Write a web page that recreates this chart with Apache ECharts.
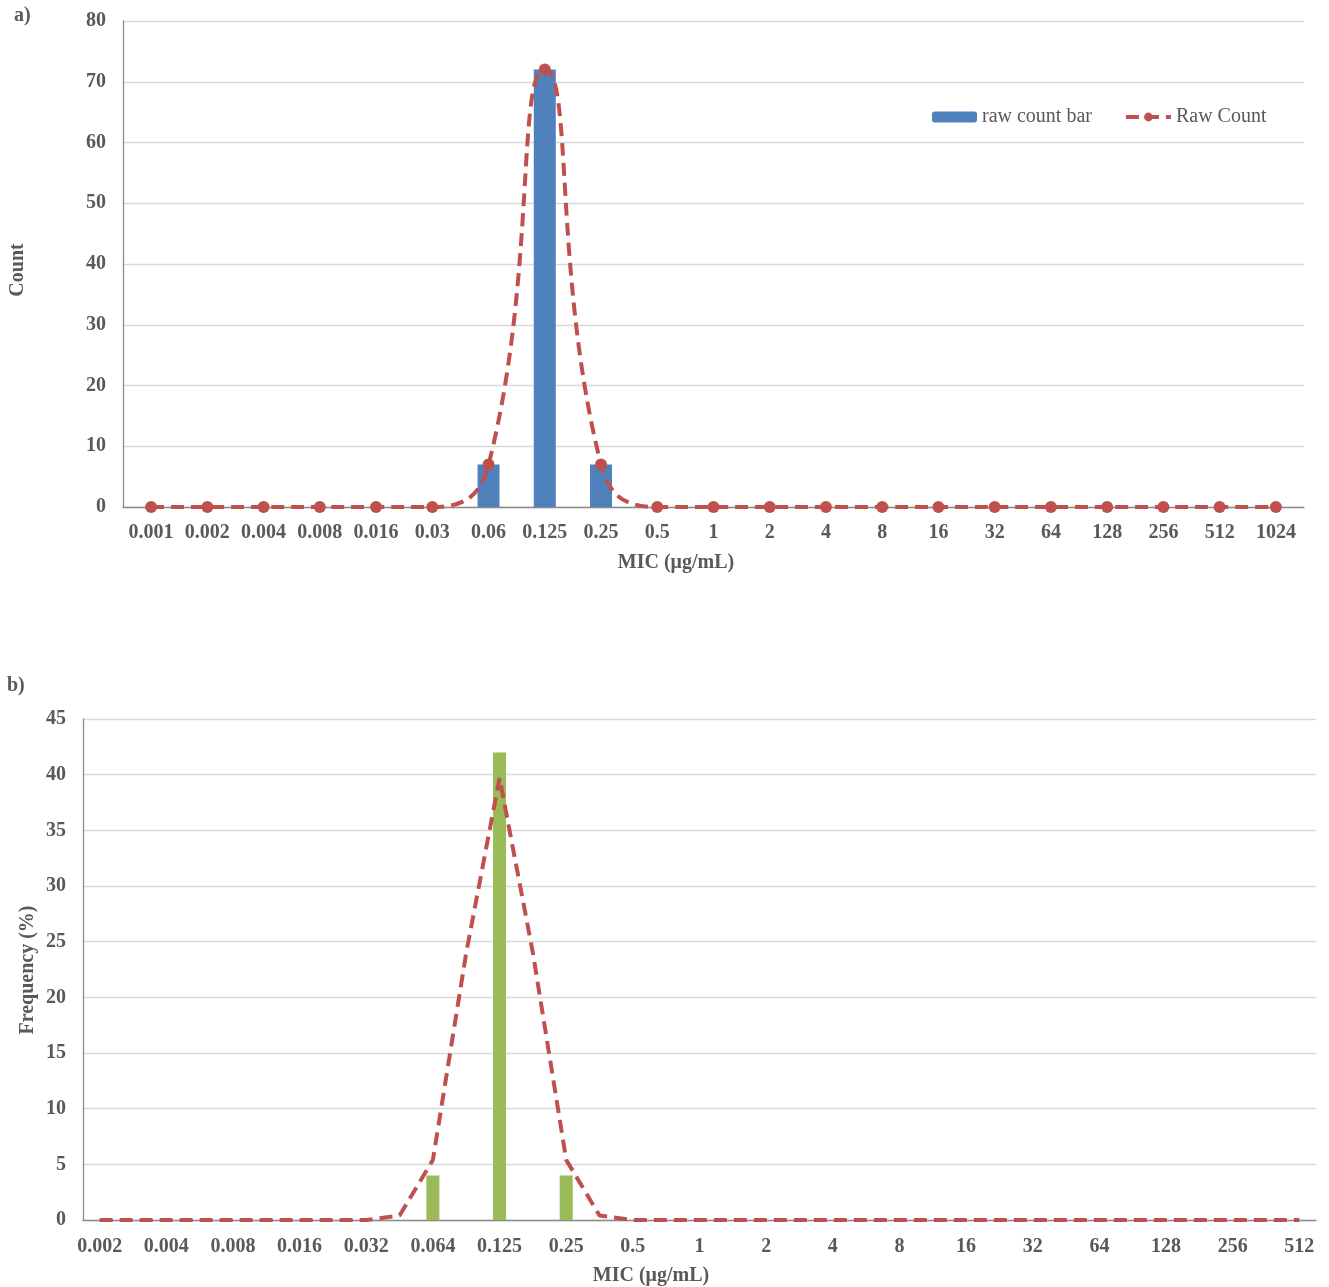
<!DOCTYPE html>
<html>
<head>
<meta charset="utf-8">
<script src="https://cdn.jsdelivr.net/npm/echarts@6/dist/echarts.min.js"></script>
<style>html,body{margin:0;padding:0;background:#fff}#c{width:1329px;height:1287px}</style>
</head>
<body>
<div id="c"></div>
<script>
// ---- Panel a data ----
var catsA = ['0.001','0.002','0.004','0.008','0.016','0.03','0.06','0.125','0.25','0.5','1','2','4','8','16','32','64','128','256','512','1024'];
var barA  = [0,0,0,0,0,0,7,72,7,0,0,0,0,0,0,0,0,0,0,0,0];
var lineA = [0,0,0,0,0,0,7,72,7,0,0,0,0,0,0,0,0,0,0,0,0];
var yTicksA = [0,10,20,30,40,50,60,70,80];

// ---- Panel b data ----
var catsB = ['0.002','0.004','0.008','0.016','0.032','0.064','0.125','0.25','0.5','1','2','4','8','16','32','64','128','256','512'];
var barB  = [0,0,0,0,0,4,42,4,0,0,0,0,0,0,0,0,0,0,0];
// fitted curve sampled at half-steps between the MIC categories (37 points)
var lineB = [0,0,0,0,0,0,0,0,0,0.4,5.4,24,39.7,24,5.4,0.4,0,0,0,0,0,0,0,0,0,0,0,0,0,0,0,0,0,0,0,0,0];
var yTicksB = [0,5,10,15,20,25,30,35,40,45];

// build half-step category axis for panel b
var catsBHalf = [], barBHalf = [];
for (var i = 0; i < catsB.length; i++) {
  catsBHalf.push(catsB[i]); barBHalf.push(barB[i]);
  if (i < catsB.length - 1) { catsBHalf.push(''); barBHalf.push(null); }
}

var FONT = 'Liberation Serif, Times New Roman, serif';
var TXT = '#595959';
var labelStyle = { fontFamily: FONT, fontWeight: 'bold', fontSize: 20, color: TXT };
var axisLineStyle = { lineStyle: { color: '#8c8c8c', width: 1.3 } };
var gridLine = { show: true, lineStyle: { color: '#d9d9d9', width: 1.3 } };

var chart = echarts.init(document.getElementById('c'), null, { renderer: 'canvas' });
chart.setOption({
  animation: false,
  backgroundColor: '#fff',
  grid: [
    { left: 123, top: 21, width: 1181, height: 486 },
    { left: 83, top: 719, width: 1233, height: 501 }
  ],
  legend: {
    data: ['raw count bar', 'Raw Count'],
    left: 927, top: 102,
    itemWidth: 45, itemHeight: 11, itemGap: 32,
    lineStyle: { width: 4 },
    textStyle: { fontFamily: FONT, fontSize: 20, color: TXT }
  },
  xAxis: [
    { type: 'category', gridIndex: 0, data: catsA, boundaryGap: true,
      axisLine: axisLineStyle, axisTick: { show: false },
      axisLabel: Object.assign({ margin: 16, interval: 0 }, labelStyle) },
    { type: 'category', gridIndex: 1, data: catsBHalf, boundaryGap: true,
      axisLine: axisLineStyle, axisTick: { show: false },
      axisLabel: Object.assign({ margin: 17, interval: 0 }, labelStyle) }
  ],
  yAxis: [
    { type: 'value', gridIndex: 0, min: yTicksA[0], max: yTicksA[yTicksA.length-1], interval: yTicksA[1]-yTicksA[0],
      axisLine: Object.assign({ show: true }, axisLineStyle), axisTick: { show: false },
      splitLine: gridLine, axisLabel: Object.assign({ margin: 17 }, labelStyle) },
    { type: 'value', gridIndex: 1, min: yTicksB[0], max: yTicksB[yTicksB.length-1], interval: yTicksB[1]-yTicksB[0],
      axisLine: Object.assign({ show: true }, axisLineStyle), axisTick: { show: false },
      splitLine: gridLine, axisLabel: Object.assign({ margin: 17 }, labelStyle) }
  ],
  series: [
    { name: 'raw count bar', type: 'bar', xAxisIndex: 0, yAxisIndex: 0, data: barA,
      barWidth: 22, itemStyle: { color: '#4f81bd' } },
    { name: 'Raw Count', type: 'line', xAxisIndex: 0, yAxisIndex: 0, data: lineA, z: 3,
      smooth: 0.5, symbol: 'circle', symbolSize: 12,
      itemStyle: { color: '#c0504d' },
      lineStyle: { color: '#c0504d', width: 4, type: [13, 7] } },
    { name: 'freq bar', type: 'bar', xAxisIndex: 1, yAxisIndex: 1, data: barBHalf,
      barWidth: 13, barGap: '-100%', itemStyle: { color: '#9bbb59' } },
    { name: 'freq curve', type: 'line', xAxisIndex: 1, yAxisIndex: 1, data: lineB, z: 3,
      smooth: false, showSymbol: false, symbol: 'none',
      lineStyle: { color: '#c0504d', width: 4, type: [13, 7] } }
  ],
  graphic: [
    { type: 'text', x: 14, y: 16, style: { text: 'a)', fill: TXT, font: 'bold 20px ' + FONT, textVerticalAlign: 'middle' } },
    { type: 'text', x: 7, y: 686, style: { text: 'b)', fill: TXT, font: 'bold 20px ' + FONT, textVerticalAlign: 'middle' } },
    { type: 'text', x: 676, y: 563, style: { text: 'MIC (μg/mL)', fill: TXT, font: 'bold 20px ' + FONT, textAlign: 'center', textVerticalAlign: 'middle' } },
    { type: 'text', x: 651, y: 1276, style: { text: 'MIC (μg/mL)', fill: TXT, font: 'bold 20px ' + FONT, textAlign: 'center', textVerticalAlign: 'middle' } },
    { type: 'text', x: 18, y: 270, rotation: Math.PI / 2, style: { text: 'Count', fill: TXT, font: 'bold 20px ' + FONT, textAlign: 'center', textVerticalAlign: 'middle' } },
    { type: 'text', x: 28, y: 970, rotation: Math.PI / 2, style: { text: 'Frequency (%)', fill: TXT, font: 'bold 20px ' + FONT, textAlign: 'center', textVerticalAlign: 'middle' } }
  ]
});
</script>
</body>
</html>
